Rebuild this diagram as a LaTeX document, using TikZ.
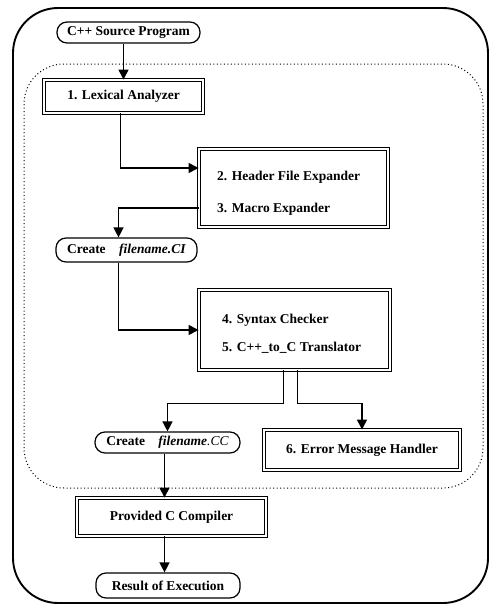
\documentclass[tikz,border=0pt]{standalone}
\usepackage{fontspec}
\setmainfont{Liberation Serif}
\usetikzlibrary{arrows.meta,calc}
\begin{document}
\begin{tikzpicture}[x=1pt,y=-1pt,
  every node/.style={font=\fontsize{13.5}{15}\selectfont\bfseries},
  term/.style={draw,line width=1.2pt,rounded corners=10pt,inner sep=0pt},
  proc/.style={draw,double,double distance=2.2pt,line width=0.9pt,inner sep=0pt},
  txt/.style={anchor=west,inner sep=0pt},
  arr/.style={line width=1.4pt,-{Triangle[width=10pt,length=10pt]}}]
\useasboundingbox (0,0) rectangle (490,613);
% outer and inner frames
\draw[line width=1.9pt,rounded corners=45pt] (13,8) rectangle (488,603);
\draw[line width=1pt,dash pattern=on 1pt off 2.5pt,rounded corners=40pt] (24,64) rectangle (483,488);
% nodes
\node[term,minimum width=143pt,minimum height=21pt] (src) at (128.5,32.5) {C++ Source Program};
\node[proc,minimum width=159pt,minimum height=33pt] (lex) at (123.5,96.5) {1. Lexical Analyzer};
\node[proc,minimum width=189pt,minimum height=78pt] (hdr) at (293.5,188) {};
\node[txt] (hdrA) at (217,177) {2. Header File Expander};
\node[txt] (hdrB) at (217,209) {3. Macro Expander};
\node[term,minimum width=141pt,minimum height=24pt] (ci) at (126.5,250)
  {Create\hspace{1em}\textit{filename.CI}};
\node[proc,minimum width=191pt,minimum height=80pt] (syn) at (294.5,330) {};
\node[txt] (synA) at (222,320) {4. Syntax Checker};
\node[txt] (synB) at (222,348) {5. C++\_to\_C Translator};
\node[term,minimum width=145pt,minimum height=21pt] (cc) at (167.5,442.5)
  {Create\hspace{1em}\textit{filename}\textmd{\textit{.CC}}};
\node[proc,minimum width=196pt,minimum height=40pt] (err) at (362,450) {6. Error Message Handler};
\node[proc,minimum width=189pt,minimum height=38pt] (prov) at (171.5,517) {Provided C Compiler};
\node[term,minimum width=144pt,minimum height=25pt] (res) at (168,585.5) {Result of Execution};
% connectors
\draw[arr] (src.south -| lex.north) -- (lex.north);
\draw[arr] ($(lex.south)+(-3,0)$) |- ($(hdr.west)+(0,-20)$);
\draw[arr] ($(hdr.west)+(0,20)$) -| ($(ci.north)+(-8,0)$);
\draw[arr] ($(ci.south)+(-8,0)$) |- (syn.west);
\draw[arr] ($(syn.south)+(-11,0)$) -- ++(0,33) -| (cc.north);
\draw[arr] ($(syn.south)+(3,0)$) -- ++(0,33) -| (err.north);
\coordinate (c1) at ($(cc.south)+(-3,0)$);
\draw[arr] (c1) -- (c1 |- prov.north);
\draw[arr] (prov.south -| c1) -- (res.north -| c1);
\end{tikzpicture}
\end{document}
